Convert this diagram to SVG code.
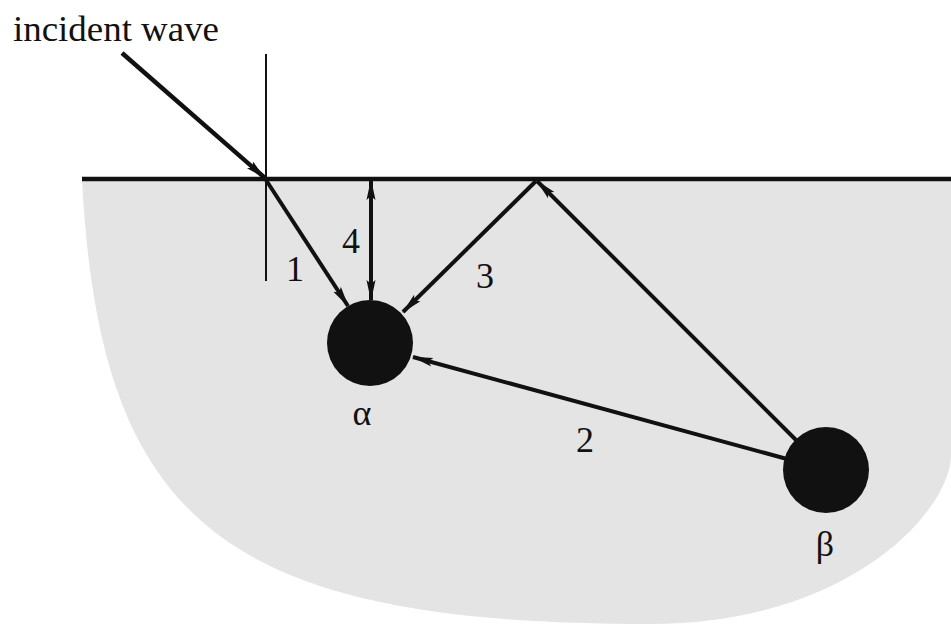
<svg xmlns="http://www.w3.org/2000/svg" width="951" height="625" viewBox="0 0 951 625">
<defs>
<style>
.lbl{font-family:"Liberation Serif","Times New Roman",serif;fill:#111;font-size:36px}
.ln{stroke:#111;fill:none;stroke-linecap:butt}
.ball{fill:#111}
</style>
<marker id="ah" markerUnits="userSpaceOnUse" markerWidth="22" markerHeight="12" viewBox="0 0 22 12" refX="20" refY="6" orient="auto-start-reverse">
<path d="M0,1.5 L21,6 L0,10.5 L4,6 z" fill="#111"/>
</marker>
</defs>
<rect width="951" height="625" fill="#fff"/>
<g id="medium">
<path d="M82,180 H951 V455 C951,510 850,624 650,624 C220,624 100,520 82,180 Z" fill="#e4e4e4"/>
<line x1="82" y1="179" x2="951" y2="179" stroke="#111" stroke-width="4.5"/>
</g>
<g id="normal">
<line class="ln" x1="266" y1="54" x2="266" y2="281" stroke-width="2"/>
</g>
<g id="connectors">
<line class="ln" x1="122" y1="53" x2="265" y2="178" stroke-width="4.5" marker-end="url(#ah)"/>
<line class="ln" x1="266" y1="180" x2="348" y2="306" stroke-width="4" marker-end="url(#ah)"/>
<line class="ln" x1="371" y1="180" x2="371" y2="300" stroke-width="4" marker-start="url(#ah)" marker-end="url(#ah)"/>
<line class="ln" x1="536" y1="181" x2="403" y2="312" stroke-width="4" marker-end="url(#ah)"/>
<line class="ln" x1="797" y1="441" x2="537" y2="181" stroke-width="4" marker-end="url(#ah)"/>
<line class="ln" x1="787" y1="459" x2="413" y2="357" stroke-width="4" marker-end="url(#ah)"/>
</g>
<g id="alpha">
<circle class="ball" cx="370" cy="343" r="43"/>
<text class="lbl" x="362" y="425" text-anchor="middle" font-size="38">α</text>
</g>
<g id="beta">
<circle class="ball" cx="826" cy="470" r="43"/>
<text class="lbl" x="825" y="556" text-anchor="middle">β</text>
</g>
<g id="labels">
<text class="lbl" x="13" y="41" font-size="37" textLength="206" lengthAdjust="spacingAndGlyphs">incident wave</text>
<text class="lbl" x="295" y="281" text-anchor="middle">1</text>
<text class="lbl" x="351" y="253" text-anchor="middle">4</text>
<text class="lbl" x="485" y="288" text-anchor="middle">3</text>
<text class="lbl" x="585" y="452" text-anchor="middle">2</text>
</g>
</svg>
